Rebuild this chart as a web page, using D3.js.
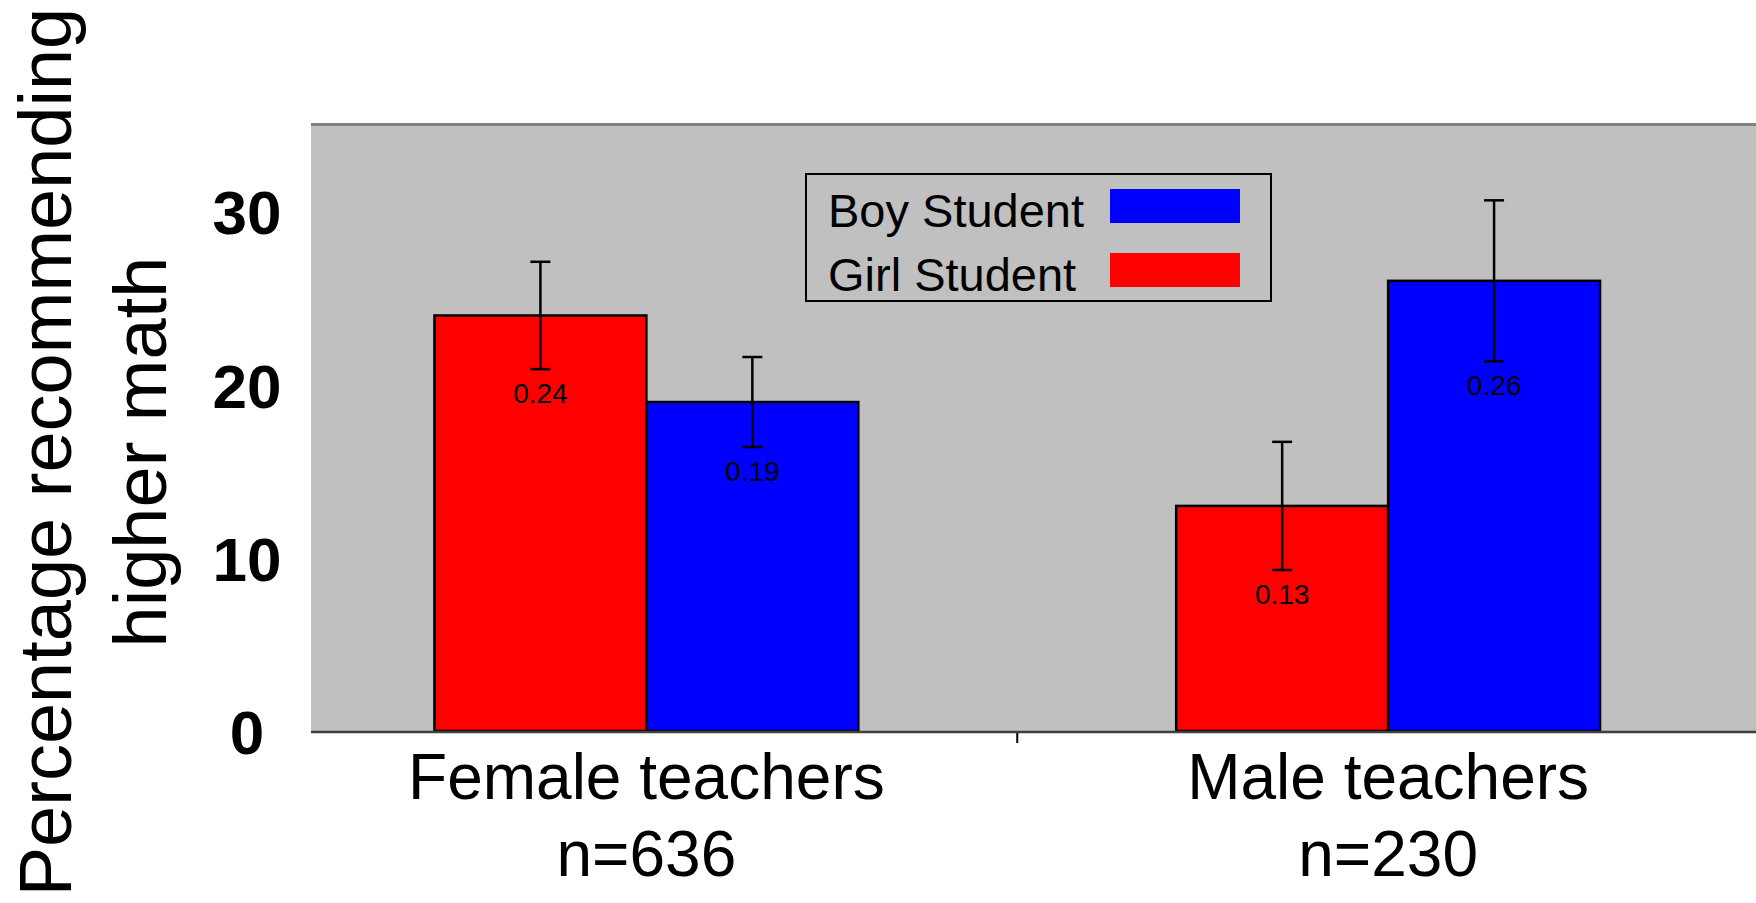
<!DOCTYPE html>
<head>
  <meta charset="utf-8">
  <script src="https://d3js.org/d3.v7.min.js"></script>
  <style>
    body { margin:0; background:#fff; }
    svg { display:block; }
    text { font-family: "Liberation Sans", Arial, sans-serif; }
  </style>
</head>
<body>
<div id="chart"></div>
<script>

  // data
  var groups = ["Female teachers", "Male teachers"];
  var groupN = ["n=636", "n=230"];
  var series = ["Girl Student", "Boy Student"];
  var girlValues = [24, 13];
  var boyValues = [19, 26];
  var girlErr = [3.1, 3.7];
  var boyErr = [2.6, 4.65];
  var girlLabels = ["0.24", "0.13"];
  var boyLabels = ["0.19", "0.26"];
  var yTicks = [0, 10, 20, 30];
  var legendOrder = ["Boy Student", "Girl Student"];

  var colors = {"Girl Student": "#ff0000", "Boy Student": "#0000ff"};

  var width = 1756, height = 903;
  var plotLeft = 311, plotTop = 123, plotBottom = 731;

  var svg = d3.select("#chart").append("svg")
    .attr("width", width)
    .attr("height", height);

  var y = d3.scaleLinear().domain([0, 35]).range([plotBottom, 125]);

  var x = d3.scaleBand().domain(groups).range([275.5, 1759]).padding(0);

  var xs = d3.scaleBand().domain(series)
    .range([0, x.bandwidth()])
    .paddingInner(0)
    .paddingOuter(0.75);

  // plot background
  svg.append("rect")
    .attr("x", plotLeft).attr("y", plotTop)
    .attr("width", width - plotLeft).attr("height", plotBottom - plotTop)
    .attr("fill", "#c0c0c0");
  svg.append("line")
    .attr("x1", plotLeft).attr("x2", width)
    .attr("y1", plotTop + 1.5).attr("y2", plotTop + 1.5)
    .attr("stroke", "#808080").attr("stroke-width", 3);

  // build rows for bars
  var rows = [];
  groups.forEach(function(g, i) {
    rows.push({group: g, s: "Girl Student", v: girlValues[i], e: girlErr[i], lab: girlLabels[i]});
    rows.push({group: g, s: "Boy Student", v: boyValues[i], e: boyErr[i], lab: boyLabels[i]});
  });

  var bars = svg.append("g").attr("class", "bars");

  bars.selectAll("rect")
    .data(rows)
    .enter().append("rect")
      .attr("x", function(d) { return x(d.group) + xs(d.s); })
      .attr("y", function(d) { return y(d.v); })
      .attr("width", xs.bandwidth())
      .attr("height", function(d) { return y(0) - y(d.v); })
      .attr("fill", function(d) { return colors[d.s]; })
      .attr("stroke", "#000")
      .attr("stroke-width", 2.5);

  // error bars
  var err = svg.append("g").attr("class", "errors")
    .attr("stroke", "#000").attr("stroke-width", 2.5);

  function cx(d) { return x(d.group) + xs(d.s) + xs.bandwidth() / 2; }

  err.selectAll("line.v")
    .data(rows)
    .enter().append("line").attr("class", "v")
      .attr("x1", cx).attr("x2", cx)
      .attr("y1", function(d) { return y(d.v + d.e); })
      .attr("y2", function(d) { return y(d.v - d.e); });

  err.selectAll("line.top")
    .data(rows)
    .enter().append("line").attr("class", "top")
      .attr("x1", function(d) { return cx(d) - 10; })
      .attr("x2", function(d) { return cx(d) + 10; })
      .attr("y1", function(d) { return y(d.v + d.e); })
      .attr("y2", function(d) { return y(d.v + d.e); });

  err.selectAll("line.bot")
    .data(rows)
    .enter().append("line").attr("class", "bot")
      .attr("x1", function(d) { return cx(d) - 10; })
      .attr("x2", function(d) { return cx(d) + 10; })
      .attr("y1", function(d) { return y(d.v - d.e); })
      .attr("y2", function(d) { return y(d.v - d.e); });

  // value labels below the lower whisker
  svg.append("g").selectAll("text")
    .data(rows)
    .enter().append("text")
      .attr("x", cx)
      .attr("y", function(d) { return y(d.v - d.e) + 34; })
      .attr("text-anchor", "middle")
      .attr("font-size", 28)
      .attr("fill", "#000")
      .text(function(d) { return d.lab; });

  // y axis (labels only)
  var yAxis = svg.append("g")
    .attr("transform", "translate(" + plotLeft + ",0)")
    .call(d3.axisLeft(y).tickValues(yTicks).tickSize(0));
  yAxis.select(".domain").remove();
  yAxis.selectAll("text")
    .attr("x", -64)
    .attr("dy", "0.36em")
    .attr("text-anchor", "middle")
    .attr("font-family", "'Liberation Sans', Arial, sans-serif")
    .attr("font-size", 62)
    .attr("font-weight", "bold")
    .attr("fill", "#000");

  // x axis line and divider tick
  svg.append("line")
    .attr("x1", plotLeft).attr("x2", width)
    .attr("y1", plotBottom + 1).attr("y2", plotBottom + 1)
    .attr("stroke", "#404040").attr("stroke-width", 2.5);
  svg.append("line")
    .attr("x1", x(groups[1])).attr("x2", x(groups[1]))
    .attr("y1", plotBottom + 2).attr("y2", plotBottom + 12)
    .attr("stroke", "#000").attr("stroke-width", 2);

  // category labels
  var xl = svg.append("g").selectAll("text")
    .data(groups)
    .enter().append("text")
      .attr("x", function(d) { return x(d) + x.bandwidth() / 2; })
      .attr("y", 799)
      .attr("text-anchor", "middle")
      .attr("font-size", 64)
      .attr("fill", "#000");
  xl.append("tspan").text(function(d) { return d; });
  xl.append("tspan")
    .attr("x", function(d) { return x(d) + x.bandwidth() / 2; })
    .attr("dy", 77)
    .text(function(d, i) { return groupN[i]; });

  // y axis title
  var yt = svg.append("text")
    .attr("transform", "translate(71,452) rotate(-90)")
    .attr("text-anchor", "middle")
    .attr("font-size", 74)
    .attr("fill", "#000");
  yt.append("tspan").attr("x", 0).attr("y", 0).text("Percentage recommending");
  yt.append("tspan").attr("x", 0).attr("y", 95).text("higher math");

  // legend
  var legend = svg.append("g").attr("class", "legend");
  legend.append("rect")
    .attr("x", 806).attr("y", 174)
    .attr("width", 465).attr("height", 127)
    .attr("fill", "none")
    .attr("stroke", "#000").attr("stroke-width", 2);

  var li = legend.selectAll("g.item")
    .data(legendOrder)
    .enter().append("g").attr("class", "item")
      .attr("transform", function(d, i) { return "translate(0," + (i * 64) + ")"; });
  li.append("text")
    .attr("x", 828).attr("y", 227)
    .attr("font-size", 47)
    .attr("fill", "#000")
    .text(function(d) { return d; });
  li.append("rect")
    .attr("x", 1110).attr("y", 189)
    .attr("width", 130).attr("height", 34)
    .attr("fill", function(d) { return colors[d]; });

</script>
</body>
